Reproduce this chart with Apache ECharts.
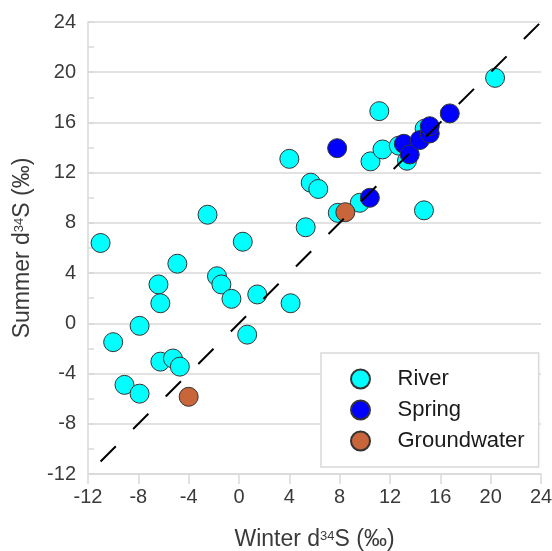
<!DOCTYPE html>
<html><head><meta charset="utf-8">
<script src="https://cdn.jsdelivr.net/npm/echarts@6/dist/echarts.min.js"></script>
<style>html,body{margin:0;padding:0;background:#fff}#c{width:552px;height:551px}</style>
</head><body><div id="c"></div>
<script>
var riverX = [-11.0,-10.0,-9.1,-7.9,-7.9,-6.4,-6.25,-6.25,-5.25,-4.7,-4.9,-2.5,-1.75,-1.4,-0.6,0.3,0.65,1.45,4.0,4.1,5.3,5.7,6.3,7.85,9.6,10.45,11.15,11.4,12.7,13.35,14.75,14.7,20.35];
var riverY = [6.4,-1.5,-4.9,-5.6,-0.2,3.1,1.6,-3.05,-2.8,-3.45,4.75,8.65,3.75,3.1,1.95,6.5,-0.9,2.3,13.1,1.6,7.65,11.2,10.7,8.8,9.6,12.9,16.9,13.85,14.15,12.95,15.5,9.0,19.55];
var springX = [7.8,10.4,13.1,13.57,14.37,15.16,15.16,16.75];
var springY = [13.95,10.0,14.3,13.45,14.6,15.12,15.7,16.72];
var gwX = [-4.0,8.45];
var gwY = [-5.85,8.85];
var lineX = [-11,24];
var lineY = [-11,24];
var axisTicks = [-12,-8,-4,0,4,8,12,16,20,24];

function zip(a,b){return a.map(function(v,i){return [v,b[i]];});}
var chart = echarts.init(document.getElementById('c'));
var axisFont = 'Liberation Sans';
var gray = '#d9d9d9';
function axisCommon(){
  return {
    type:'value', min:axisTicks[0], max:axisTicks[axisTicks.length-1], interval:4,
    axisLine:{show:true,onZero:false,lineStyle:{color:gray,width:1.5}},
    axisLabel:{color:'#3a3a3a',fontSize:20,fontFamily:axisFont},
    splitLine:{show:false},
    nameLocation:'middle',
    nameTextStyle:{rich:{a:{fontSize:23,fontFamily:axisFont,color:'#3a3a3a'},s:{fontSize:13,fontFamily:axisFont,color:'#3a3a3a',verticalAlign:'bottom',padding:[0,0,8,0]}}}
  };
}
var xa = axisCommon();
xa.axisTick = {show:true,length:10,lineStyle:{color:gray,width:1.5}};
xa.axisLabel.margin = 13;
xa.name = '{a|Winter d}{s|34}{a|S (‰)}';
xa.nameGap = 54;
var ya = axisCommon();
ya.axisTick = {show:true,inside:true,length:6,lineStyle:{color:gray,width:1.5}};
ya.minorTick = {show:true,splitNumber:2,length:6,lineStyle:{color:gray,width:1.5}};
ya.splitLine = {show:true,lineStyle:{color:gray,width:1.5}};
ya.axisLabel.margin = 12;
ya.name = '{a|Summer d}{s|34}{a|S (‰)}';
ya.nameGap = 54;

function sc(name,color,x,y){
  return {name:name,type:'scatter',data:zip(x,y),symbol:'circle',symbolSize:19,
    itemStyle:{color:color,borderColor:'#333',borderWidth:1,opacity:1}};
}
chart.setOption({
  animation:false,
  grid:{left:88,right:11,top:22,bottom:77,containLabel:false,outerBoundsMode:'none'},
  xAxis:xa, yAxis:ya,
  legend:{orient:'vertical',left:321,top:353,data:['River','Spring','Groundwater'],
    itemWidth:64,itemHeight:19,itemGap:9,
    padding:[15,14,15,29],borderColor:gray,borderWidth:1.5,backgroundColor:'#fff',
    textStyle:{fontSize:22,lineHeight:19,fontFamily:'Liberation Sans',color:'#1a1a1a'}},
  series:[
    sc('River','#00ffff',riverX,riverY),
    sc('Spring','#0000ff',springX,springY),
    sc('Groundwater','#c8653a',gwX,gwY),
    {type:'line',data:zip(lineX,lineY),symbol:'none',silent:true,z:5,
     lineStyle:{color:'#000',width:2,type:[21.5,24.5]}}
  ]
});
</script></body></html>
